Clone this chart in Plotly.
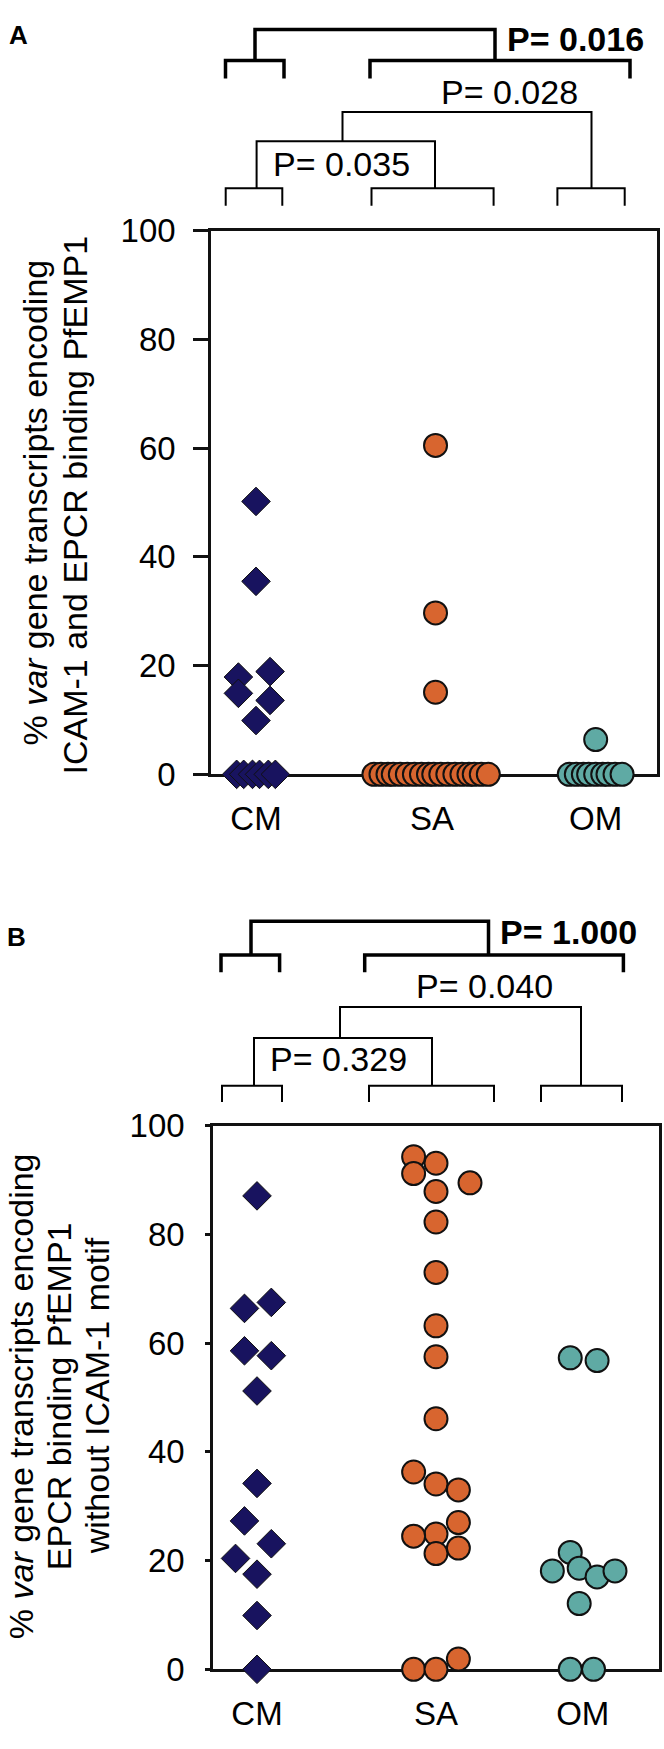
import plotly.graph_objects as go

W, H = 664, 1749
FONT = "Liberation Sans, Arial, Helvetica, sans-serif"

categories = ["CM", "SA", "OM"]
cat_pos_a = [1.0, 2.0, 2.93]
cat_pos_b = [1.0, 2.0, 2.82]
y_ticks = [0, 20, 40, 60, 80, 100]

# ---------- Panel A: % var transcripts encoding ICAM-1 and EPCR binding PfEMP1
a_cm_values = [50.2, 35.5, 17.9, 18.9, 14.9, 13.6, 9.9, 0, 0, 0, 0, 0, 0]
a_cm_offsets = [0, 0, -0.10, 0.08, -0.10, 0.08, 0, -0.11, -0.07, -0.02, 0.02, 0.07, 0.11]
a_sa_values = [60.5, 29.7, 15.1, 0, 0, 0, 0, 0, 0, 0, 0, 0, 0, 0, 0, 0, 0, 0, 0, 0, 0]
a_sa_offsets = [0.02, 0.02, 0.02, -0.33, -0.29, -0.25, -0.22, -0.18, -0.14, -0.10, -0.06, -0.02,
                0.01, 0.05, 0.09, 0.13, 0.17, 0.21, 0.24, 0.28, 0.32]
a_om_values = [6.4, 0, 0, 0, 0, 0, 0, 0, 0, 0]
a_om_offsets = [0, -0.15, -0.11, -0.07, -0.04, 0, 0.04, 0.07, 0.11, 0.15]

# ---------- Panel B: % var transcripts encoding EPCR binding PfEMP1 without ICAM-1 motif
b_cm_values = [87.1, 66.4, 67.5, 58.6, 57.7, 51.2, 34.2, 27.3, 23.1, 20.4, 17.5, 9.9, 0]
b_cm_offsets = [0, -0.07, 0.08, -0.07, 0.08, 0, 0, -0.07, 0.08, -0.12, 0, 0, 0]
b_sa_values = [94.3, 93.1, 91.2, 89.5, 87.9, 82.3, 73.0, 63.2, 57.5, 46.1, 36.3, 34.1, 33.0,
               27.0, 24.9, 24.5, 22.3, 21.3, 0, 0, 1.9]
b_sa_offsets = [-0.125, 0, -0.125, 0.19, 0, 0, 0, 0, 0, 0, -0.125, 0, 0.125,
                0.125, 0, -0.125, 0.125, 0, -0.125, 0, 0.125]
b_om_values = [57.3, 56.8, 21.5, 18.1, 18.6, 17.0, 18.1, 12.1, 0, 0]
b_om_offsets = [-0.07, 0.08, -0.07, -0.17, -0.02, 0.08, 0.18, -0.02, -0.07, 0.06]

# p-values
a_pvals = ["P= 0.016", "P= 0.028", "P= 0.035"]
b_pvals = ["P= 1.000", "P= 0.040", "P= 0.329"]

NAVY = "#18135F"
ORANGE = "#D8652F"
TEAL = "#5FAAA4"


def px(x):
    return x / W


def py(y):
    return 1 - y / H


fig = go.Figure()


def add_group(values, offsets, pos, color, symbol, size, lw, xa, ya):
    fig.add_trace(go.Scatter(
        x=[pos + o for o in offsets], y=values, mode="markers",
        xaxis=xa, yaxis=ya, cliponaxis=False, showlegend=False,
        marker=dict(symbol=symbol, size=size, color=color,
                    line=dict(color="#111111", width=lw)),
    ))


add_group(a_cm_values, a_cm_offsets, cat_pos_a[0], NAVY, "diamond", 22, 1, "x", "y")
add_group(a_sa_values, a_sa_offsets, cat_pos_a[1], ORANGE, "circle", 23, 2, "x", "y")
add_group(a_om_values, a_om_offsets, cat_pos_a[2], TEAL, "circle", 23, 2, "x", "y")
add_group(b_cm_values, b_cm_offsets, cat_pos_b[0], NAVY, "diamond", 22, 1, "x2", "y2")
add_group(b_sa_values, b_sa_offsets, cat_pos_b[1], ORANGE, "circle", 23, 2, "x2", "y2")
add_group(b_om_values, b_om_offsets, cat_pos_b[2], TEAL, "circle", 23, 2, "x2", "y2")

tickfont = dict(family=FONT, size=33, color="black")


def xaxis(domain, rng, tickvals, anchor):
    return dict(domain=domain, range=rng, tickvals=tickvals, ticktext=categories,
                ticks="", showline=True, linecolor="#111111", linewidth=2.5, mirror=True,
                showgrid=False, zeroline=False, tickfont=tickfont, anchor=anchor,
                layer="below traces", ticklabelstandoff=13, fixedrange=True)


def yaxis(domain, ticklen, standoff, anchor):
    return dict(domain=domain, range=[0, 100], tickvals=y_ticks, ticks="outside",
                ticklen=ticklen, tickwidth=2.5, tickcolor="#111111",
                showline=True, linecolor="#111111", linewidth=2.5, mirror=True,
                showgrid=False, zeroline=False, tickfont=tickfont, anchor=anchor,
                layer="below traces", ticklabelstandoff=standoff, fixedrange=True)


fig.update_layout(
    width=W, height=H, margin=dict(l=0, r=0, t=0, b=0),
    paper_bgcolor="white", plot_bgcolor="white", showlegend=False,
    font=dict(family=FONT, color="black"),
    xaxis=xaxis([px(211), px(657)], [0.7443, 3.2784], cat_pos_a, "y"),
    yaxis=yaxis([py(772.7), py(217.3)], 15, 11, "x"),
    xaxis2=xaxis([px(213), px(659)], [0.7542, 3.2458], cat_pos_b, "y2"),
    yaxis2=yaxis([py(1687), py(1131.7)], 5, 14, "x2"),
)

# brackets: (x_left, x_right, y_top, y_bottom_left, y_bottom_right, width)
brackets = [
    (255, 495, 11.7, 43.3, 43.3, 3.5),
    (225.5, 284, 43.3, 61.7, 61.7, 3.5),
    (370, 630, 43.3, 61.7, 61.7, 3.5),
    (342.5, 591.5, 96, 126, 174, 2),
    (256.6, 435, 126, 174, 174, 2),
    (225.7, 282.3, 174, 191.7, 191.7, 2),
    (371.5, 493.6, 174, 191.7, 191.7, 2),
    (557.4, 624.7, 174, 191.7, 191.7, 2),
    (251, 488.5, 922.7, 957.3, 957.3, 3.5),
    (221, 279.6, 957.3, 975, 975, 3.5),
    (364.7, 623.4, 957.3, 975, 975, 3.5),
    (340, 581, 1010.5, 1042, 1090.7, 2),
    (254, 432, 1042, 1090.7, 1090.7, 2),
    (222, 282, 1090.7, 1107.3, 1107.3, 2),
    (369, 494, 1090.7, 1107.3, 1107.3, 2),
    (541, 622, 1090.7, 1107.3, 1107.3, 2),
]
for xl, xr, yt, ybl, ybr, lw in brackets:
    path = (f"M {px(xl)},{py(ybl)} L {px(xl)},{py(yt)} "
            f"L {px(xr)},{py(yt)} L {px(xr)},{py(ybr)}")
    fig.add_shape(type="path", path=path, xref="paper", yref="paper",
                  line=dict(color="black", width=lw), layer="above")

annotations = []


def ann(text, x, y, size, xanchor="left", bold=False, angle=0):
    t = f"<b>{text}</b>" if bold else text
    annotations.append(dict(text=t, x=px(x), y=py(y), xref="paper", yref="paper",
                            xanchor=xanchor, yanchor="middle", showarrow=False,
                            textangle=angle, borderpad=0,
                            font=dict(family=FONT, size=size, color="black")))


ann("A", 18, 17.5, 26, xanchor="center", bold=True)
ann(a_pvals[0], 506, 21, 34, bold=True)
ann(a_pvals[1], 440, 75.5, 34)
ann(a_pvals[2], 272, 149.5, 34)
ann("% <i>var</i> gene transcripts encoding", 35, 495, 34, xanchor="center", angle=-90)
ann("ICAM-1 and EPCR binding PfEMP1", 75, 498, 34, xanchor="center", angle=-90)

ann("B", 16, 939, 26, xanchor="center", bold=True)
ann(b_pvals[0], 499, 934, 34, bold=True)
ann(b_pvals[1], 415, 989, 34)
ann(b_pvals[2], 269, 1064, 34)
ann("% <i>var</i> gene transcripts encoding", 21, 1408, 34, xanchor="center", angle=-90)
ann("EPCR binding PfEMP1", 59, 1408, 34, xanchor="center", angle=-90)
ann("without ICAM-1 motif", 97, 1408, 34, xanchor="center", angle=-90)

fig.update_layout(annotations=annotations)

fig.write_html(
    "out.html",
    config={"displayModeBar": False, "responsive": False},
    post_script="document.body.style.margin='0px';"
                "document.documentElement.style.overflow='hidden';",
)
